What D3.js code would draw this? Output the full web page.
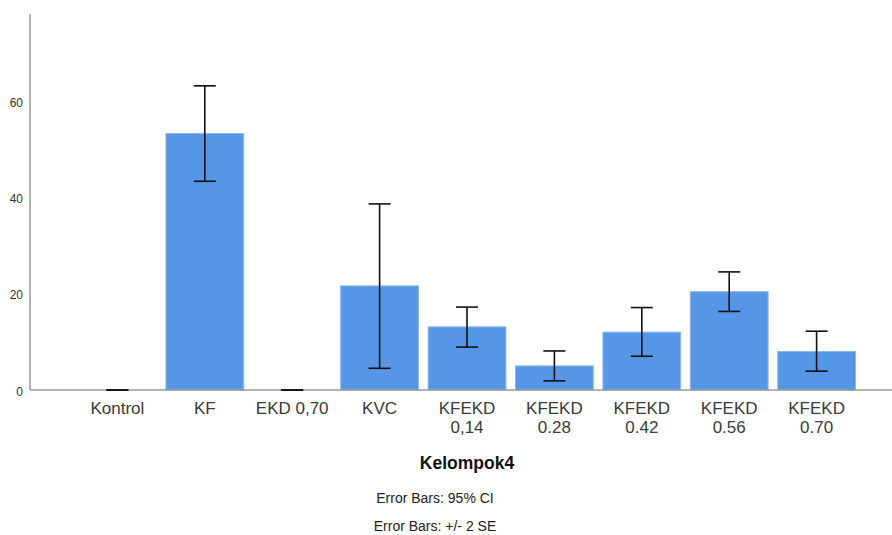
<!DOCTYPE html>
<html>
<head>
<meta charset="utf-8">
<script src="https://cdn.jsdelivr.net/npm/d3@7"></script>
<style>
  html, body { margin: 0; padding: 0; background: #fff; }
  svg { display: block; font-family: "Liberation Sans", Arial, sans-serif; }
</style>
</head>
<body>
<svg id="chart" width="892" height="535"></svg>
<script>
// Data
const categories = ["Kontrol", "KF", "EKD 0,70", "KVC", "KFEKD\n0,14", "KFEKD\n0.28", "KFEKD\n0.42", "KFEKD\n0.56", "KFEKD\n0.70"];
const means      = [0, 53.2, 0, 21.6, 13.1, 5.0, 12.0, 20.4, 8.0];
const errLow     = [0, 43.3, 0, 4.5, 8.9, 1.9, 7.0, 16.3, 3.9];
const errHigh    = [0, 63.1, 0, 38.6, 17.2, 8.1, 17.1, 24.5, 12.2];
const yTicks     = [0, 20, 40, 60];
const xTitle     = "Kelompok4";
const notes      = ["Error Bars: 95% CI", "Error Bars: +/- 2 SE"];

const svg = d3.select("#chart");
const axisX = 30, baseY = 390, topY = 14;

const y = d3.scaleLinear().domain([0, 78]).range([baseY, topY]);
const step = 87.4;
const x = d3.scaleBand()
  .domain(categories)
  .range([axisX + step / 2, axisX + step / 2 + 9 * step])
  .paddingInner(0.11)
  .paddingOuter(0.055);

// Bars
svg.append("g").selectAll("rect")
  .data(categories)
  .join("rect")
  .attr("x", d => x(d))
  .attr("width", x.bandwidth())
  .attr("y", (d, i) => y(means[i]))
  .attr("height", (d, i) => baseY - y(means[i]))
  .attr("fill", "#5596e6")
  .attr("stroke", "#8bb8ef")
  .attr("stroke-width", 1);

// Axes lines
svg.append("line").attr("x1", axisX).attr("x2", 892).attr("y1", baseY).attr("y2", baseY)
  .attr("stroke", "#9a9a9a").attr("stroke-width", 1.5);
svg.append("line").attr("x1", axisX).attr("x2", axisX).attr("y1", topY).attr("y2", baseY)
  .attr("stroke", "#9a9a9a").attr("stroke-width", 1.5);

// Y tick labels
const yAxis = d3.axisLeft(y).tickValues(yTicks).tickSize(0).tickPadding(7).tickFormat(d3.format("d"));
const yg = svg.append("g").attr("transform", `translate(${axisX},0)`).call(yAxis);
yg.select(".domain").remove();
yg.selectAll("text").attr("font-size", 12).attr("fill", "#333")
  .attr("font-family", "'Liberation Sans', Arial, sans-serif").attr("dy", "0.45em");

// Error bars
const capW = 22;
const eg = svg.append("g");
categories.forEach((c, i) => {
  const cx = x(c) + x.bandwidth() / 2;
  const g = eg.append("g").attr("stroke", "#111").attr("stroke-width", 1.6);
  g.append("line").attr("x1", cx).attr("x2", cx).attr("y1", y(errLow[i])).attr("y2", y(errHigh[i]));
  g.append("line").attr("x1", cx - capW / 2).attr("x2", cx + capW / 2).attr("y1", y(errHigh[i])).attr("y2", y(errHigh[i]));
  g.append("line").attr("x1", cx - capW / 2).attr("x2", cx + capW / 2).attr("y1", y(errLow[i])).attr("y2", y(errLow[i]));
});

// X category labels
const lg = svg.append("g");
categories.forEach(c => {
  const cx = x(c) + x.bandwidth() / 2;
  const lines = c.split("\n");
  lines.forEach((ln, k) => {
    lg.append("text").attr("x", cx).attr("y", 414 + k * 19).attr("text-anchor", "middle")
      .attr("font-size", 17).attr("fill", "#3a3a3a").text(ln);
  });
});

// Axis title
svg.append("text").attr("x", 467).attr("y", 469).attr("text-anchor", "middle")
  .attr("font-size", 17.5).attr("font-weight", "bold").attr("fill", "#111").text(xTitle);

// Notes
notes.forEach((n, k) => {
  svg.append("text").attr("x", 435).attr("y", 503 + k * 28).attr("text-anchor", "middle")
    .attr("font-size", 14).attr("fill", "#222").text(n);
});
</script>
</body>
</html>
